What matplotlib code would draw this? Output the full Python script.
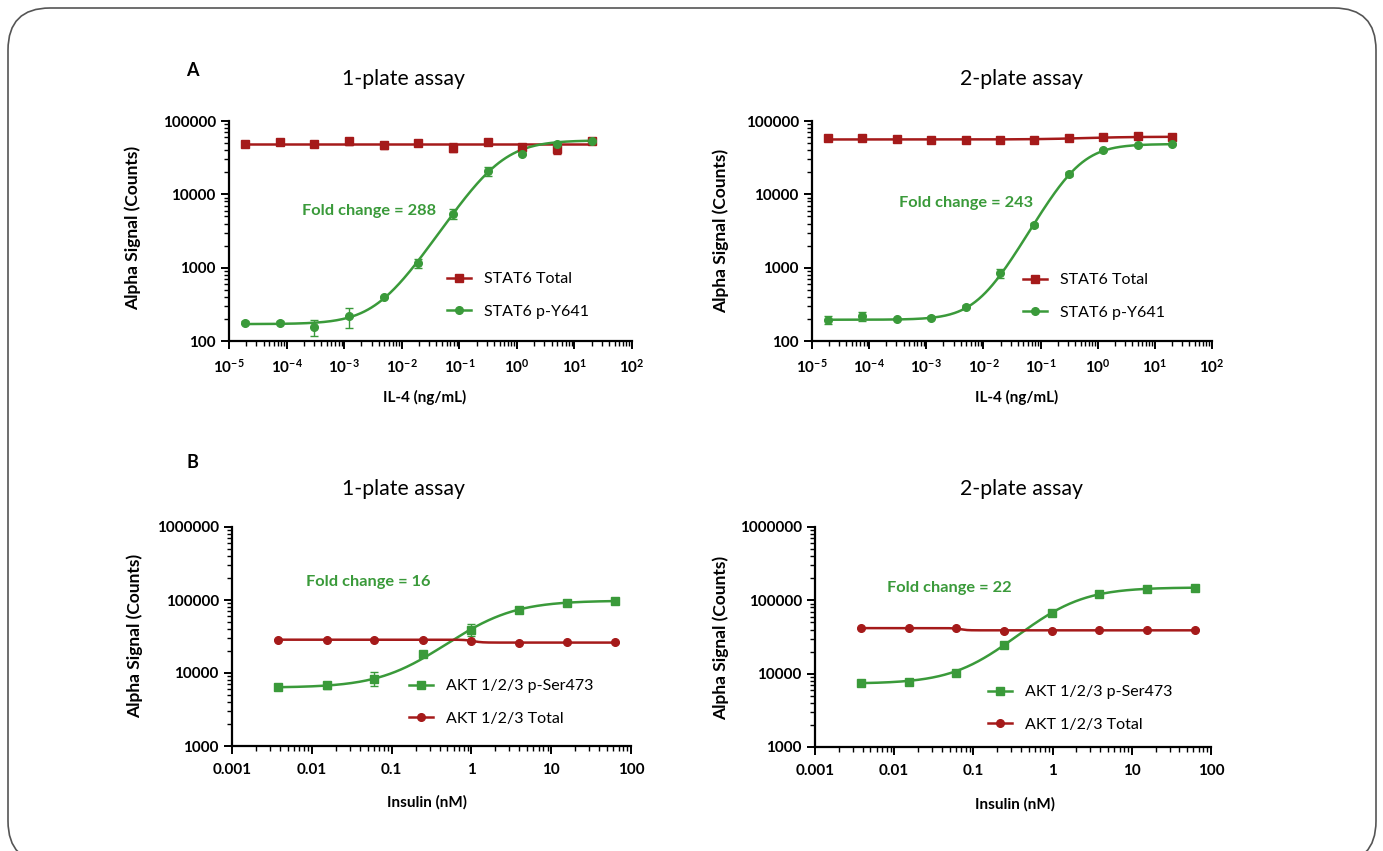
import numpy as np
import matplotlib
matplotlib.use("Agg")
import matplotlib.pyplot as plt
from matplotlib.patches import FancyBboxPatch
from matplotlib.ticker import FixedLocator, LogLocator, NullFormatter

# =========================
# STYLE
# =========================
plt.rcParams['font.family'] = ['Lato', 'DejaVu Sans']
plt.rcParams['mathtext.fontset'] = 'custom'
plt.rcParams['mathtext.rm'] = 'Lato'
plt.rcParams['mathtext.bf'] = 'Lato:bold'

RED = '#A51A1A'
GREEN = '#3A9A3A'

W, H = 1383, 851

# =========================
# DATA
# =========================
# IL-4 dose, 4-fold dilution series (ng/mL)
il4_dose = [1.9e-5, 7.6e-5, 3.05e-4, 1.22e-3, 4.88e-3, 0.0195, 0.078, 0.3125, 1.25, 5.0, 20.0]

# Panel A, 1-plate assay
stat6_total_1 = [48800, 52000, 49000, 53000, 46500, 50000, 43500, 51000, 44500, 42000, 54000]
stat6_total_1_err = [2500, 3500, 4000, 6000, 4500, 2500, 6000, 3000, 2500, 7000, 3500]
stat6_py_1 = [178, 178, 155, 217, 398, 1160, 5450, 20500, 36000, 49000, 53000]
stat6_py_1_err = [8, 8, 38, 65, 15, 160, 800, 2800, 1500, 1500, 2000]

# Panel A, 2-plate assay
stat6_total_2 = [59200, 59200, 57400, 54500, 55900, 55400, 55900, 58600, 59600, 63000, 61000]
stat6_total_2_err = [1500, 1500, 1200, 1500, 1200, 1200, 1200, 1200, 1200, 1500, 1200]
stat6_py_2 = [194, 217, 200, 208, 295, 843, 3820, 19100, 40200, 46500, 47900]
stat6_py_2_err = [22, 30, 8, 10, 12, 110, 250, 1200, 1500, 1500, 1500]

# Insulin dose, 4-fold dilution series (nM)
insulin_dose = [0.0038, 0.0153, 0.061, 0.244, 0.977, 3.9, 15.6, 62.5]

# Panel B, 1-plate assay
akt_pser_1 = [6480, 6760, 8370, 18200, 39300, 73900, 92400, 96500]
akt_pser_1_err = [700, 700, 1800, 1200, 7000, 3500, 3000, 2500]
akt_total_1 = [28600, 28600, 28600, 28600, 27100, 25900, 26200, 26200]
akt_total_1_err = [500, 500, 500, 500, 500, 500, 500, 500]

# Panel B, 2-plate assay
akt_pser_2 = [7460, 7780, 10100, 24600, 67900, 123000, 143000, 146000]
akt_pser_2_err = [300, 300, 400, 1500, 3000, 5000, 5000, 4000]
akt_total_2 = [42000, 41600, 41600, 37800, 38600, 39800, 39800, 39800]
akt_total_2_err = [500, 500, 500, 500, 500, 500, 500, 500]

# 4PL fit parameters: bottom, top, EC50, hill
fit_total_1 = (48500, 48500, 1.0, 1.0)
fit_py_1 = (170, 54500, 0.5, 1.2)
fit_total_2 = (56000, 61000, 0.6, 1.0)
fit_py_2 = (195, 48500, 0.45, 1.4)
fit_akt_pser_1 = (6300, 98000, 1.6, 1.15)
fit_akt_total_1 = (28600, 26100, 1.05, 8.0)
fit_akt_pser_2 = (7300, 150000, 1.26, 1.21)
fit_akt_total_2 = (41800, 39000, 0.068, 10.0)

fold_changes = ["288", "243", "16", "22"]

LEG_FS = 11.5


def fx(px):
    return px / W


def fy(py):
    return 1 - py / H


def four_pl(x, p):
    bottom, top, ec50, hill = p
    return bottom + (top - bottom) / (1 + (ec50 / x) ** hill)


def make_axes(left, right, top, bottom):
    ax = fig.add_axes([fx(left), fy(bottom), fx(right - left), (bottom - top) / H])
    ax.set_xscale('log')
    ax.set_yscale('log')
    for side in ['top', 'right']:
        ax.spines[side].set_visible(False)
    for side in ['left', 'bottom']:
        ax.spines[side].set_linewidth(1.6)
    ax.tick_params(which='major', direction='out', length=6, width=1.4,
                   labelsize=11)
    ax.tick_params(which='minor', direction='out', length=3.5, width=1.0)
    ax.yaxis.set_minor_locator(LogLocator(base=10, subs=np.arange(2, 10)))
    ax.xaxis.set_minor_locator(LogLocator(base=10, subs=np.arange(2, 10)))
    ax.xaxis.set_minor_formatter(NullFormatter())
    ax.yaxis.set_minor_formatter(NullFormatter())
    return ax


def draw_series(ax, x, y, err, fit, color, marker, label):
    xs = np.logspace(np.log10(min(x)), np.log10(max(x)), 300)
    ax.plot(xs, four_pl(xs, fit), color=color, lw=1.8, zorder=2)
    ax.errorbar(x, y, yerr=err, fmt=marker, color=color, ms=5.5,
                elinewidth=1.0, capsize=3, capthick=1.0, zorder=3)
    # legend proxy
    ax.plot([], [], color=color, lw=1.8, marker=marker, ms=5.5, label=label)


def set_yticks(ax, ticks):
    ax.yaxis.set_major_locator(FixedLocator(ticks))
    ax.set_yticklabels([str(t) for t in ticks], fontweight='bold')
    ax.set_ylim(ticks[0], ticks[-1])


def add_legend(ax, leg_x, leg_y):
    ax.legend(loc='upper left', bbox_to_anchor=(fx(leg_x), fy(leg_y)),
              bbox_transform=fig.transFigure, frameon=False, fontsize=LEG_FS,
              borderpad=0, borderaxespad=0, handlelength=1.48,
              handletextpad=0.85, labelspacing=1.15)


fig = plt.figure(figsize=(W / 100, H / 100), dpi=100)

# rounded frame round the whole figure
frame = FancyBboxPatch((0.08, -0.12), 13.68, 8.55,
                       boxstyle="round,pad=0,rounding_size=0.42",
                       transform=fig.dpi_scale_trans, fill=False,
                       edgecolor='#555555', linewidth=1.2)
fig.patches.append(frame)

# =========================
# PANEL A
# =========================
il4_ticks = [1e-5, 1e-4, 1e-3, 1e-2, 1e-1, 1e0, 1e1, 1e2]
il4_labels = [r'$\mathbf{10^{%d}}$' % e for e in range(-5, 3)]

panel_a = [
    (229, 632, 121, 341, stat6_total_1, stat6_total_1_err, fit_total_1,
     stat6_py_1, stat6_py_1_err, fit_py_1, 447, 272),
    (812, 1212, 121, 341, stat6_total_2, stat6_total_2_err, fit_total_2,
     stat6_py_2, stat6_py_2_err, fit_py_2, 1023, 273),
]
for (left, right, top, bottom, tot, tot_err, tot_fit, py, py_err, py_fit,
     leg_x, leg_y) in panel_a:
    ax = make_axes(left, right, top, bottom)
    draw_series(ax, il4_dose, tot, tot_err, tot_fit, RED, 's', 'STAT6 Total')
    draw_series(ax, il4_dose, py, py_err, py_fit, GREEN, 'o', 'STAT6 p-Y641')
    ax.set_xlim(1e-5, 1e2)
    ax.xaxis.set_major_locator(FixedLocator(il4_ticks))
    ax.set_xticklabels(il4_labels, fontsize=11)
    set_yticks(ax, [100, 1000, 10000, 100000])
    ax.tick_params(axis='x', pad=6)
    add_legend(ax, leg_x, leg_y)

# =========================
# PANEL B
# =========================
ins_ticks = [0.001, 0.01, 0.1, 1, 10, 100]
ins_labels = ['0.001', '0.01', '0.1', '1', '10', '100']

panel_b = [
    (232, 631, 527, 746, akt_pser_1, akt_pser_1_err, fit_akt_pser_1,
     akt_total_1, akt_total_1_err, fit_akt_total_1, 409, 679),
    (815, 1211, 527, 747, akt_pser_2, akt_pser_2_err, fit_akt_pser_2,
     akt_total_2, akt_total_2_err, fit_akt_total_2, 988, 685),
]
for (left, right, top, bottom, ps, ps_err, ps_fit, tot, tot_err, tot_fit,
     leg_x, leg_y) in panel_b:
    ax = make_axes(left, right, top, bottom)
    draw_series(ax, insulin_dose, ps, ps_err, ps_fit, GREEN, 's', 'AKT 1/2/3 p-Ser473')
    draw_series(ax, insulin_dose, tot, tot_err, tot_fit, RED, 'o', 'AKT 1/2/3 Total')
    ax.set_xlim(0.001, 100)
    ax.xaxis.set_major_locator(FixedLocator(ins_ticks))
    ax.set_xticklabels(ins_labels, fontsize=11, fontweight='bold')
    set_yticks(ax, [1000, 10000, 100000, 1000000])
    ax.tick_params(axis='x', pad=6)
    add_legend(ax, leg_x, leg_y)

# =========================
# TEXTS
# =========================
fig.text(fx(192), fy(70), 'A', fontsize=13, fontweight='bold', ha='center', va='center')
fig.text(fx(192), fy(463), 'B', fontsize=13, fontweight='bold', ha='center', va='center')

for cx, cy in [(404, 79), (404, 489)]:
    fig.text(fx(cx), fy(cy), '1-plate assay', fontsize=15.3, ha='center', va='center')
for cx, cy in [(1021, 79), (1021, 489)]:
    fig.text(fx(cx), fy(cy), '2-plate assay', fontsize=15.3, ha='center', va='center')

for (cx, cy), fc in zip([(369, 211), (966, 203), (368, 582), (949, 588)], fold_changes):
    fig.text(fx(cx), fy(cy), 'Fold change = ' + fc, fontsize=11.8, fontweight='bold',
             color=GREEN, ha='center', va='center')

for cx, cy in [(425, 397), (1017, 397)]:
    fig.text(fx(cx), fy(cy), 'IL-4 (ng/mL)', fontsize=11, fontweight='bold',
             ha='center', va='center')
for cx, cy in [(427, 802), (1015, 804)]:
    fig.text(fx(cx), fy(cy), 'Insulin (nM)', fontsize=11, fontweight='bold',
             ha='center', va='center')
for cx, cy in [(133, 228), (721, 231), (135, 636), (721, 638)]:
    fig.text(fx(cx), fy(cy), 'Alpha Signal (Counts)', fontsize=12.5, fontweight='bold',
             rotation=90, ha='center', va='center')

fig.savefig('out.png', dpi=100)
plt.close(fig)
